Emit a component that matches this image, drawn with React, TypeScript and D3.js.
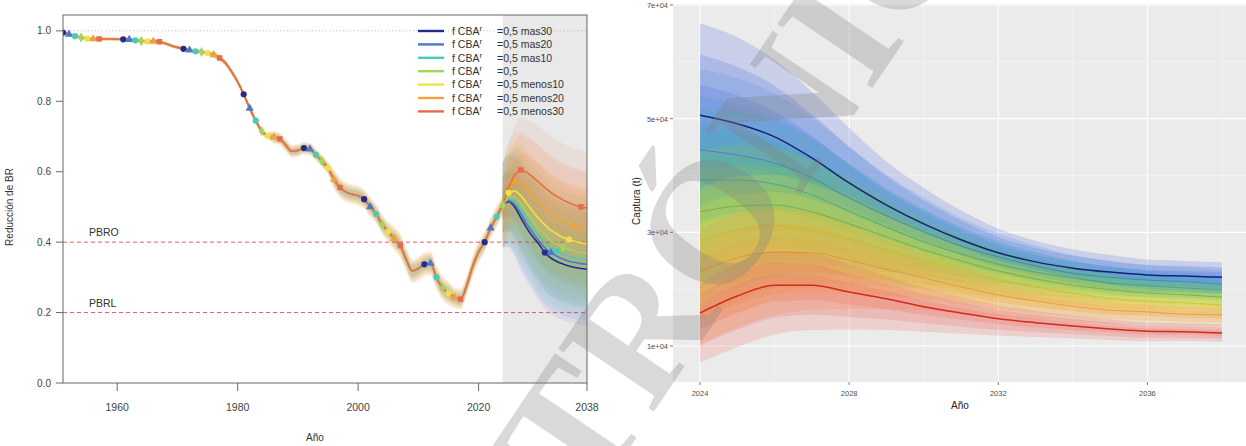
import React from 'react';
import * as d3 from 'd3';

// ---- scenario labels -------------------------------------------------------
const scenarioNames = ['mas30', 'mas20', 'mas10', 'base', 'menos10', 'menos20', 'menos30'];
const legendLabels = ['=0,5 mas30', '=0,5 mas20', '=0,5 mas10', '=0,5', '=0,5 menos10', '=0,5 menos20', '=0,5 menos30'];

// ---- historical depletion (BR / BR0), 1951-2024 ------------------------------
const histYears = d3.range(1951, 2025);
const histDepletion = [
  0.995, 0.99, 0.985, 0.981, 0.978, 0.977, 0.977, 0.977, 0.977, 0.976,
  0.976, 0.975, 0.973, 0.971, 0.97, 0.97, 0.969, 0.964, 0.958, 0.953,
  0.949, 0.945, 0.942, 0.94, 0.937, 0.932, 0.923, 0.908, 0.884, 0.855,
  0.82, 0.78, 0.745, 0.715, 0.702, 0.698, 0.693, 0.675, 0.658, 0.66,
  0.667, 0.664, 0.648, 0.63, 0.61, 0.578, 0.555, 0.542, 0.536, 0.532,
  0.522, 0.5, 0.48, 0.45, 0.43, 0.41, 0.39, 0.35, 0.318, 0.325,
  0.337, 0.34, 0.3, 0.27, 0.255, 0.242, 0.238, 0.275, 0.33, 0.372,
  0.4, 0.44, 0.472, 0.505,
];
const histHalfWidth = [
  0.006, 0.006, 0.006, 0.006, 0.006, 0.006, 0.006, 0.006, 0.006, 0.006,
  0.006, 0.006, 0.006, 0.006, 0.006, 0.006, 0.006, 0.006, 0.006, 0.006,
  0.006, 0.006, 0.006, 0.006, 0.006, 0.01, 0.01, 0.01, 0.01, 0.01,
  0.01, 0.01, 0.01, 0.01, 0.01, 0.018, 0.018, 0.018, 0.018, 0.018,
  0.018, 0.018, 0.018, 0.018, 0.018, 0.028, 0.028, 0.028, 0.028, 0.028,
  0.028, 0.028, 0.028, 0.028, 0.028, 0.034, 0.034, 0.034, 0.034, 0.034,
  0.034, 0.034, 0.034, 0.034, 0.034, 0.03, 0.03, 0.03, 0.03, 0.03,
  0.03, 0.03, 0.03, 0.03,
];
// each scenario's share of the historical interval width
const histBandScale = [0.4, 0.5, 0.6, 0.7, 0.8, 0.9, 1.0];

// ---- projected depletion, 2024-2038 -----------------------------------------
const projYears = d3.range(2024, 2039);
const depMas30 = [0.505, 0.515, 0.5, 0.47, 0.44, 0.415, 0.395, 0.37, 0.355, 0.345, 0.338, 0.332, 0.328, 0.325, 0.323];
const depMas20 = [0.505, 0.518, 0.507, 0.482, 0.452, 0.427, 0.404, 0.384, 0.37, 0.36, 0.352, 0.346, 0.342, 0.339, 0.337];
const depMas10 = [0.505, 0.522, 0.516, 0.494, 0.466, 0.44, 0.418, 0.399, 0.385, 0.374, 0.366, 0.36, 0.356, 0.353, 0.351];
const depBase = [0.505, 0.528, 0.528, 0.51, 0.485, 0.46, 0.438, 0.42, 0.405, 0.394, 0.385, 0.379, 0.374, 0.371, 0.368];
const depMenos10 = [0.505, 0.54, 0.545, 0.532, 0.51, 0.488, 0.467, 0.449, 0.434, 0.423, 0.414, 0.407, 0.402, 0.398, 0.395];
const depMenos20 = [0.505, 0.55, 0.572, 0.568, 0.552, 0.532, 0.512, 0.494, 0.479, 0.467, 0.458, 0.45, 0.444, 0.44, 0.436];
const depMenos30 = [0.505, 0.555, 0.59, 0.605, 0.598, 0.585, 0.57, 0.555, 0.541, 0.53, 0.52, 0.512, 0.505, 0.5, 0.497];
const projDepletion = [depMas30, depMas20, depMas10, depBase, depMenos10, depMenos20, depMenos30];
// half-width of the projected depletion interval
const projHalfWidth = [0.12, 0.13, 0.14, 0.15, 0.15, 0.155, 0.16, 0.16, 0.16, 0.16, 0.16, 0.16, 0.16, 0.16, 0.16];

// ---- projected catch (t), 2024-2038 -----------------------------------------
const catchMas30 = [50600, 49100, 46800, 43100, 38700, 34800, 31500, 28700, 26400, 24800, 23700, 23000, 22500, 22300, 22100];
const catchMas20 = [44500, 43600, 42200, 39600, 36000, 32900, 30100, 27600, 25700, 24100, 22800, 22100, 21600, 21300, 20900];
const catchMas10 = [39200, 39200, 38500, 36600, 33700, 30900, 28300, 26200, 24400, 23000, 22000, 21100, 20600, 20200, 19900];
const catchBase = [33600, 34600, 34800, 33600, 31500, 29200, 26900, 25000, 23200, 21800, 20700, 19900, 19300, 19000, 18600];
const catchMenos10 = [28600, 30400, 31100, 30400, 28800, 26900, 25000, 23200, 21600, 20400, 19300, 18400, 17900, 17600, 17200];
const catchMenos20 = [23000, 25500, 26500, 26400, 25100, 23500, 22000, 20400, 19000, 17900, 17000, 16300, 16000, 15600, 15500];
const catchMenos30 = [15800, 18800, 20700, 20700, 19500, 18300, 16900, 15800, 14800, 14100, 13500, 13000, 12600, 12500, 12300];
const projCatch = [catchMas30, catchMas20, catchMas10, catchBase, catchMenos10, catchMenos20, catchMenos30];
// relative width of the catch interval above / below the median
const catchUpperRel = [0.32, 0.31, 0.29, 0.27, 0.25, 0.22, 0.2, 0.18, 0.16, 0.15, 0.14, 0.13, 0.12, 0.12, 0.12];
const catchLowerRel = [0.55, 0.48, 0.42, 0.38, 0.34, 0.3, 0.26, 0.23, 0.2, 0.18, 0.16, 0.15, 0.14, 0.13, 0.13];

// ---- axes -------------------------------------------------------------------
const leftYTicks = [0, 0.2, 0.4, 0.6, 0.8, 1.0];
const leftXTicks = [1960, 1980, 2000, 2020, 2038];
const refLevels = [0.4, 0.2];
const refLabels = ['PBRO', 'PBRL'];
const rightXTicks = [2024, 2028, 2032, 2036];
const rightXMinor = [2026, 2030, 2034, 2038];
const rightYTicks = [10000, 30000, 50000, 70000];
const rightYMinor = [20000, 40000, 60000];

// ---- styling ----------------------------------------------------------------
const lineColorsLeft = ['#242b8a', '#4b78c8', '#46cdb8', '#a4d45a', '#f0e04a', '#f0a23c', '#e86a4c'];
const bandColorsLeft = ['#4a62d8', '#4a8ae0', '#3fc4b0', '#8cc850', '#f0dc3a', '#f0a040', '#e87a50'];
const bandColorsRight = ['#3f5fe0', '#4a90e2', '#3cb3a0', '#8cc63f', '#f2e03a', '#f5a236', '#f0645a'];
const lineColorsRight = ['#14207a', '#2f62c0', '#1f8f80', '#4f9a2a', '#c9b410', '#e07c10', '#d42a18'];
const symbolTypes = [d3.symbolCircle, d3.symbolTriangle, d3.symbolCircle, d3.symbolDiamond, d3.symbolCircle, d3.symbolTriangle, d3.symbolSquare];

const SANS = 'Liberation Sans, Arial, Helvetica, sans-serif';

function sci(v: number): string {
  const [m, e] = v.toExponential(0).split('e');
  return `${m}e${e[0]}${e.slice(1).padStart(2, '0')}`;
}

export default function App() {
  const W = 1246;
  const H = 446;

  // left panel scales
  const L = { x0: 63, x1: 587, y0: 15, y1: 383 };
  const xL = d3.scaleLinear().domain([1951, 2038]).range([L.x0, L.x1]);
  const yL = d3.scaleLinear().domain([0, 1.045]).range([L.y1, L.y0]);

  // right panel scales
  const R = { x0: 673, x1: 1246, y0: 4, y1: 382 };
  const xR = d3.scaleLinear().domain([2024, 2038]).range([700, 1222]);
  const yR = d3.scaleLinear().domain([10000, 70000]).range([346, 5]);

  const levels = [1, 0.66, 0.33];

  const lineL = d3.line<[number, number]>().x(d => xL(d[0])).y(d => yL(d[1])).curve(d3.curveMonotoneX);
  const areaL = d3.area<[number, number, number]>().x(d => xL(d[0])).y0(d => yL(d[1])).y1(d => yL(d[2])).curve(d3.curveMonotoneX);
  const lineR = d3.line<[number, number]>().x(d => xR(d[0])).y(d => yR(d[1])).curve(d3.curveMonotoneX);
  const areaR = d3.area<[number, number, number]>().x(d => xR(d[0])).y0(d => yR(d[1])).y1(d => yR(d[2])).curve(d3.curveMonotoneX);

  // full series for each scenario: shared history + its own projection
  const fullSeries = projDepletion.map(p => {
    const s: [number, number][] = histYears.map((yr, i) => [yr, histDepletion[i]]);
    projYears.forEach((yr, i) => { if (i > 0) s.push([yr, p[i]]); });
    return s;
  });

  return (
    <svg width={W} height={H} viewBox={`0 0 ${W} ${H}`} style={{ position: 'absolute', left: 0, top: 0, background: '#fff' }}>
      <defs>
        <clipPath id="clipL"><rect x={L.x0} y={L.y0} width={L.x1 - L.x0} height={L.y1 - L.y0} /></clipPath>
        <clipPath id="clipR"><rect x={R.x0} y={R.y0} width={R.x1 - R.x0} height={R.y1 - R.y0} /></clipPath>
      </defs>

      {/* ================= left panel: depletion ================= */}
      <g fontFamily={SANS}>
        <rect x={xL(2024)} y={L.y0} width={L.x1 - xL(2024)} height={L.y1 - L.y0} fill="#e9e9e9" />
        <g clipPath="url(#clipL)">
          {scenarioNames.map((_, s) => (
            <path key={`hb${s}`}
              d={areaL(histYears.map((yr, i) => [yr, histDepletion[i] - histHalfWidth[i] * histBandScale[s], histDepletion[i] + histHalfWidth[i] * histBandScale[s]]))!}
              fill={bandColorsLeft[s]} fillOpacity={0.13} />
          ))}
          {scenarioNames.map((_, s) =>
            levels.map((lv, k) => (
              <path key={`pb${s}-${k}`}
                d={areaL(projYears.map((yr, i) => [yr, projDepletion[s][i] - projHalfWidth[i] * lv, projDepletion[s][i] + projHalfWidth[i] * lv]))!}
                fill={bandColorsLeft[s]} fillOpacity={0.1} />
            ))
          )}
        </g>
        {/* reference lines */}
        <line x1={L.x0} x2={L.x1} y1={yL(1)} y2={yL(1)} stroke="#bdbdbd" strokeDasharray="1.5,2" strokeWidth={0.8} />
        {refLevels.map((v, i) => (
          <g key={`ref${i}`}>
            <line x1={L.x0} x2={L.x1} y1={yL(v)} y2={yL(v)} stroke="#e04848" strokeDasharray="4,3" strokeWidth={0.9} />
            <text x={89} y={yL(v) - 6} fontSize={10.5} fill="#333">{refLabels[i]}</text>
          </g>
        ))}
        <g clipPath="url(#clipL)">
          {fullSeries.map((s, i) => (
            <path key={`ln${i}`} d={lineL(s)!} fill="none" stroke={lineColorsLeft[i]} strokeWidth={1.6} />
          ))}
          {fullSeries.map((s, i) =>
            s.filter(d => (d[0] - 1951 - i) % 10 === 0).map(d => (
              <path key={`pt${i}-${d[0]}`} transform={`translate(${xL(d[0])},${yL(d[1])})`}
                d={d3.symbol().type(symbolTypes[i]).size(30)()!} fill={lineColorsLeft[i]} />
            ))
          )}
        </g>
        <rect x={L.x0} y={L.y0} width={L.x1 - L.x0} height={L.y1 - L.y0} fill="none" stroke="#666" strokeWidth={1} />

        {/* y axis */}
        {leftYTicks.map(t => (
          <g key={`ly${t}`}>
            <line x1={L.x0 - 7} x2={L.x0} y1={yL(t)} y2={yL(t)} stroke="#666" />
            <text x={L.x0 - 12} y={yL(t) + 3.5} fontSize={10} fill="#444" textAnchor="end">{d3.format('.1f')(t)}</text>
          </g>
        ))}
        <text transform={`translate(13,${(L.y0 + L.y1) / 2 + 8}) rotate(-90)`} fontSize={10} fill="#333" textAnchor="middle">Reducción de BR</text>

        {/* x axis */}
        {leftXTicks.map(t => (
          <g key={`lx${t}`}>
            <line x1={xL(t)} x2={xL(t)} y1={L.y1} y2={L.y1 + 8} stroke="#666" />
            <text x={xL(t)} y={L.y1 + 28} fontSize={10.5} fill="#444" textAnchor="middle">{t}</text>
          </g>
        ))}
        <text x={315} y={441} fontSize={10} fill="#333" textAnchor="middle">Año</text>

        {/* legend */}
        {legendLabels.map((lab, i) => {
          const y = 31 + i * 13.4;
          return (
            <g key={`lg${i}`}>
              <line x1={418} x2={444} y1={y} y2={y} stroke={lineColorsLeft[i]} strokeWidth={2.4} />
              <text x={452} y={y + 3.8} fontSize={10.5} fill="#333">
                f CBA<tspan dy={-4} fontSize={8}>r</tspan><tspan x={497} dy={4}>{lab}</tspan>
              </text>
            </g>
          );
        })}
      </g>

      {/* ================= right panel: catch ================= */}
      <g fontFamily={SANS}>
        <rect x={R.x0} y={R.y0} width={R.x1 - R.x0} height={R.y1 - R.y0} fill="#ebebeb" />
        {rightYMinor.map(t => <line key={`rym${t}`} x1={R.x0} x2={R.x1} y1={yR(t)} y2={yR(t)} stroke="#f7f7f7" strokeWidth={0.6} />)}
        {rightXMinor.map(t => <line key={`rxm${t}`} x1={xR(t)} x2={xR(t)} y1={R.y0} y2={R.y1} stroke="#f7f7f7" strokeWidth={0.6} />)}
        {rightYTicks.map(t => <line key={`ryg${t}`} x1={R.x0} x2={R.x1} y1={yR(t)} y2={yR(t)} stroke="#ffffff" strokeWidth={1.1} />)}
        {rightXTicks.map(t => <line key={`rxg${t}`} x1={xR(t)} x2={xR(t)} y1={R.y0} y2={R.y1} stroke="#ffffff" strokeWidth={1.1} />)}
        <g clipPath="url(#clipR)">
          {projCatch.map((c, s) =>
            levels.map((lv, k) => (
              <path key={`cb${s}-${k}`}
                d={areaR(projYears.map((yr, i) => [yr, c[i] * (1 - catchLowerRel[i] * lv), c[i] * (1 + catchUpperRel[i] * lv)]))!}
                fill={bandColorsRight[s]} fillOpacity={0.2} />
            ))
          )}
          {projCatch.map((c, s) => (
            <path key={`cl${s}`} d={lineR(projYears.map((yr, i) => [yr, c[i]]))!} fill="none"
              stroke={lineColorsRight[s]} strokeWidth={s === 0 || s === 6 ? 1.5 : 1} strokeOpacity={s === 0 || s === 6 ? 1 : 0.5} />
          ))}
        </g>
        {rightYTicks.map(t => (
          <g key={`ry${t}`}>
            <line x1={R.x0 - 3} x2={R.x0} y1={yR(t)} y2={yR(t)} stroke="#555" strokeWidth={0.8} />
            <text x={R.x0 - 5} y={yR(t) + 3} fontSize={7.5} fill="#4d4d4d" textAnchor="end">{sci(t)}</text>
          </g>
        ))}
        {rightXTicks.map(t => (
          <g key={`rx${t}`}>
            <line x1={xR(t)} x2={xR(t)} y1={R.y1} y2={R.y1 + 3} stroke="#555" strokeWidth={0.8} />
            <text x={xR(t)} y={R.y1 + 14} fontSize={7.5} fill="#4d4d4d" textAnchor="middle">{t}</text>
          </g>
        ))}
        <text x={960} y={409} fontSize={10} fill="#222" textAnchor="middle">Año</text>
        <text transform={`translate(640,${(R.y0 + R.y1) / 2 + 8}) rotate(-90)`} fontSize={10} fill="#222" textAnchor="middle">Captura (t)</text>
      </g>

      {/* document watermark */}
      <text transform="translate(684,367) rotate(-56)" textAnchor="middle" fontFamily="Liberation Serif, serif"
        fontWeight="bold" fontSize={175} fill="#808080" fillOpacity={0.3} style={{ pointerEvents: 'none' }}>
        ELECTRÓNICA
      </text>
    </svg>
  );
}
